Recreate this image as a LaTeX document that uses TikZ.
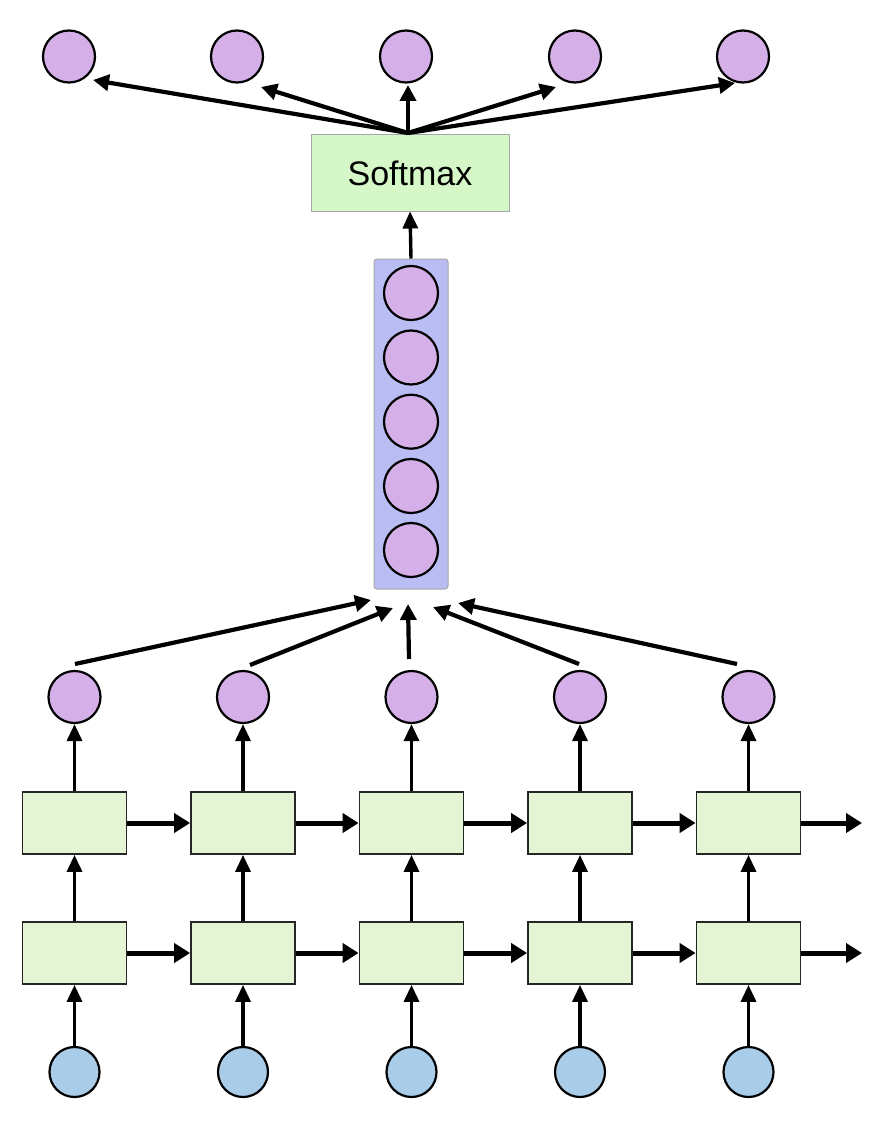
\documentclass[tikz,border=0pt]{standalone}
\usepackage{fontspec}
\setmainfont{Liberation Sans}
\usetikzlibrary{arrows.meta}
\definecolor{purp}{HTML}{D4AFE8}
\definecolor{bluec}{HTML}{A9CCE8}
\definecolor{boxg}{HTML}{E3F5D4}
\definecolor{softg}{HTML}{D6F8C9}
\definecolor{colb}{HTML}{B9BDF3}
\tikzset{
  pcirc/.style={circle,draw=black,line width=2.2pt,fill=purp,minimum size=52pt,inner sep=0pt},
  bcirc/.style={circle,draw=black,line width=2.2pt,fill=bluec,minimum size=50pt,inner sep=0pt},
  cell/.style={rectangle,draw=black!85,line width=1.8pt,fill=boxg,minimum width=104pt,minimum height=62pt,inner sep=0pt},
  arr/.style={line width=4.2pt,-{Triangle[length=16pt,width=16pt]}},
  varr/.style={line width=3.4pt,-{Triangle[length=17pt,width=15pt]}},
  harr/.style={line width=5pt,-{Triangle[length=16pt,width=19pt]}},
}
\begin{document}
\begin{tikzpicture}[x=1pt,y=-1pt]
\useasboundingbox (0,0) rectangle (886,1134);
% top output circles
\foreach \i/\x in {1/69,2/237,3/406,4/575,5/743}{
  \node[pcirc] (o\i) at (\x,56.5) {};
}
% softmax
\node[rectangle,draw=black!35,line width=1pt,fill=softg,minimum width=198pt,minimum height=76pt,inner sep=0pt,font=\fontsize{34pt}{40pt}\selectfont] (soft) at (410,173) {Softmax};
% column
\node[rectangle,rounded corners=3pt,draw=black!35,line width=1pt,fill=colb,minimum width=74pt,minimum height=330pt,inner sep=0pt] (col) at (411,424) {};
\foreach \i/\y in {1/293,2/357.5,3/421.7,4/486,5/550}{
  \node[pcirc,minimum size=54pt] (c\i) at (411,\y) {};
}
% lower part
\foreach \i/\x in {1/74.5,2/243,3/411.5,4/580,5/748.5}{
  \node[pcirc] (m\i) at (\x,697) {};
  \node[cell] (u\i) at (\x,823) {};
  \node[cell] (l\i) at (\x,953) {};
  \node[bcirc] (b\i) at (\x,1072) {};
  \draw[varr] (b\i.north) -- (l\i.south);
  \draw[varr] (l\i.north) -- (u\i.south);
  \draw[varr] (u\i.north) -- (m\i.south);
}
\foreach \i/\j in {1/2,2/3,3/4,4/5}{
  \draw[harr] (u\i.east) -- (u\j.west);
  \draw[harr] (l\i.east) -- (l\j.west);
}
\coordinate (ue) at (862,823);
\coordinate (le) at (862,953);
\draw[harr] (u5.east) -- (ue);
\draw[harr] (l5.east) -- (le);
% column -> softmax
\draw[varr] (col.north) -- (soft.south);
% softmax -> outputs
\coordinate (st) at (408,133);
\coordinate (t1) at (93,80);
\coordinate (t2) at (261,87);
\coordinate (t3) at (408,85);
\coordinate (t4) at (556,87);
\coordinate (t5) at (735,83);
\foreach \i in {1,...,5}{
  \draw[arr] (st) -- (t\i);
}
% middle circles -> column
\coordinate (s1) at (75,664);
\coordinate (s2) at (250,665);
\coordinate (s3) at (409,659);
\coordinate (s4) at (579,664);
\coordinate (s5) at (737,664);
\coordinate (e1) at (371,600);
\coordinate (e2) at (393,608);
\coordinate (e3) at (408,604);
\coordinate (e4) at (433,607);
\coordinate (e5) at (458,603);
\foreach \i in {1,...,5}{
  \draw[arr] (s\i) -- (e\i);
}
\end{tikzpicture}
\end{document}
